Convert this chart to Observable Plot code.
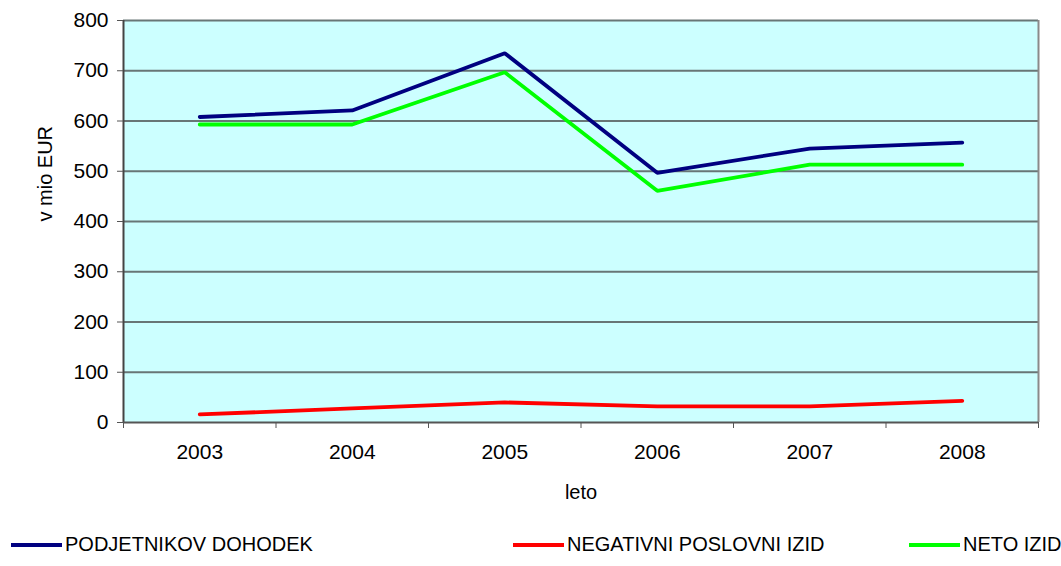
<!DOCTYPE html>
<html>
<head>
<meta charset="utf-8">
<script src="https://cdn.jsdelivr.net/npm/d3@7"></script>
<script src="https://cdn.jsdelivr.net/npm/@observablehq/plot@0.6"></script>
<style>
  body { margin: 0; background: #fff; font-family: "Liberation Sans", Arial, sans-serif; }
  #chart svg { display: block; }
  .legend { position: relative; width: 1061px; height: 46px; font-size: 20px; color: #000; }
  .item { position: absolute; top: 13px; display: flex; align-items: center; white-space: nowrap; }
  .swatch { width: 51px; height: 4px; margin-right: 3px; }
</style>
</head>
<body>
<div id="chart"></div>
<script>
const years = [2003, 2004, 2005, 2006, 2007, 2008];
const podjetnikovDohodek = [608, 621, 735, 497, 545, 557];
const negativniPoslovniIzid = [16, 28, 40, 32, 32, 43];
const netoIzid = [593, 593, 697, 461, 513, 513];
const seriesNames = ["PODJETNIKOV DOHODEK", "NEGATIVNI POSLOVNI IZID", "NETO IZID"];
const seriesColors = ["#000080", "#FF0000", "#00FF00"];
const yTicks = [0, 100, 200, 300, 400, 500, 600, 700, 800];
const xTitle = "leto";
const yTitle = "v mio EUR";

const seriesValues = [podjetnikovDohodek, negativniPoslovniIzid, netoIzid];
const data = seriesNames.flatMap((name, i) =>
  years.map((year, j) => ({series: name, year, value: seriesValues[i][j]})));
const bounds = years.map(y => y - 0.5).concat([years[years.length - 1] + 0.5]);

const chart = Plot.plot({
  width: 1061,
  height: 520,
  marginTop: 20,
  marginBottom: 98,
  marginLeft: 123,
  marginRight: 23,
  style: {fontFamily: "'Liberation Sans', Arial, sans-serif", fontSize: "21px", color: "#000", background: "#fff"},
  x: {domain: [bounds[0], bounds[bounds.length - 1]]},
  y: {domain: [0, 800]},
  color: {domain: seriesNames, range: seriesColors},
  marks: [
    Plot.frame({fill: "#CCFFFF", stroke: null}),
    Plot.ruleY(yTicks.filter(d => d > 0), {stroke: "#687676", strokeWidth: 2}),
    Plot.ruleX([bounds[bounds.length - 1]], {stroke: "#8a8a8a", strokeWidth: 2}),
    Plot.ruleX([bounds[0]], {stroke: "#444", strokeWidth: 2}),
    Plot.ruleY([0], {stroke: "#555", strokeWidth: 2}),
    Plot.axisY({ticks: yTicks, tickSize: 6, tickPadding: 9, label: null, stroke: "#555", fill: "#000", fontSize: 21}),
    Plot.axisX({ticks: bounds, tickSize: 6, tickFormat: () => "", label: null, stroke: "#555"}),
    Plot.axisX({ticks: years, tickSize: 0, tickPadding: 22, tickFormat: d => String(d), label: null, fill: "#000", fontSize: 21}),
    Plot.line(data, {x: "year", y: "value", z: "series", stroke: "series", strokeWidth: 3.8, strokeLinejoin: "miter"}),
    Plot.text([xTitle], {frameAnchor: "bottom", dy: 76, fontSize: 20, fill: "#000"}),
    Plot.text([yTitle], {frameAnchor: "left", dx: -78, rotate: -90, fontSize: 20, fill: "#000"})
  ]
});
document.getElementById("chart").appendChild(chart);

const legend = document.createElement("div");
legend.className = "legend";
const lefts = [11, 513, 909];
seriesNames.forEach((name, i) => {
  const item = document.createElement("div");
  item.className = "item";
  item.style.left = lefts[i] + "px";
  const sw = document.createElement("span");
  sw.className = "swatch";
  sw.style.background = seriesColors[i];
  const label = document.createElement("span");
  label.textContent = name;
  item.appendChild(sw);
  item.appendChild(label);
  legend.appendChild(item);
});
document.body.appendChild(legend);
</script>
</body>
</html>
